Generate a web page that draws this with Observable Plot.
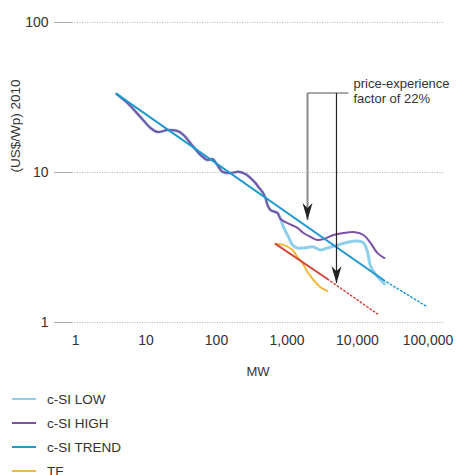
<!DOCTYPE html>
<html><head><meta charset="utf-8">
<script src="https://cdn.jsdelivr.net/npm/d3@7"></script>
<script src="https://cdn.jsdelivr.net/npm/@observablehq/plot@0.6"></script>
<style>
body{margin:0;background:#fff;font-family:"Liberation Sans",Arial,sans-serif;}
#chart svg g[aria-label="y-axis tick"] path, #chart svg g[aria-label="y-axis"] .tick line{stroke:#aaa;}
.legend{margin:2px 0 0 12px;font-size:13.5px;color:#333;}
.legend .row{display:flex;align-items:center;height:24px;}
.legend .sw{width:24px;height:2.5px;margin-right:11px;}
</style>
</head><body>
<div id="chart"></div>
<div class="legend" id="legend"></div>
<script>
// ---- data (MW cumulative, price US$/Wp 2010) ----
const xTicks = [1, 10, 100, 1000, 10000, 100000];
const yTicks = [1, 10, 100];

const sharedMW    = [3.82, 5.47, 8.36, 11.6, 14.6, 20.2, 28.0, 34.0, 47.2, 59.3, 74.5, 87.7, 103, 122, 158, 205, 258, 303, 357, 394, 449, 495, 529, 583, 733, 809];
const sharedPrice = [33.4, 29.0, 23.4, 19.8, 18.6, 19.2, 18.9, 17.8, 14.8, 13.1, 12.1, 12.3, 11.2, 10.1, 9.93, 10.1, 9.77, 9.19, 8.51, 8.0, 7.41, 6.76, 6.07, 5.62, 5.37, 4.90];

const highMW    = [1016, 1409, 1714, 2153, 2708, 3296, 4567, 6329, 8770, 12160, 15290, 19220, 24150];
const highPrice = [4.60, 4.27, 3.95, 3.72, 3.55, 3.60, 3.83, 3.95, 4.01, 3.83, 3.39, 2.90, 2.69];

const lowMW    = [892, 1050, 1197, 1409, 1714, 2377, 2985, 3750, 5200, 7210, 10000, 12160, 13870, 15290, 17990, 21180, 24150];
const lowPrice = [4.33, 3.72, 3.29, 3.14, 3.14, 3.19, 3.04, 3.14, 3.28, 3.43, 3.49, 3.39, 2.95, 2.38, 2.10, 1.92, 1.81];

const trendMW = [3.82, 23400];
const trendPrice = [33.4, 1.92];
const trendExtMW = [23400, 98000];
const trendExtPrice = [1.92, 1.27];

const tfMW    = [687, 892, 1197, 1409, 1660, 1954, 2377, 2985, 3750];
const tfPrice = [3.34, 3.29, 3.04, 2.73, 2.49, 2.17, 1.92, 1.72, 1.62];

const tfTrendMW = [687, 3750];
const tfTrendPrice = [3.34, 1.95];
const tfTrendExtMW = [3750, 19220];
const tfTrendExtPrice = [1.95, 1.14];

// annotation
const arrowMW = [1954, 5035];
const arrowTop = [33.9, 33.9];
const arrowTip = [4.82, 1.83];
const barMW = [1954, 7450];
const noteMW = 8770;
const notePrice = 35.2;
const noteText = "price-experience\nfactor of 22%";

const seriesNames = ["c-SI LOW", "c-SI HIGH", "c-SI TREND", "TF"];
const seriesColors = ["#8ed0ec", "#7b52a4", "#1f98d0", "#f3b83c"];
const tfTrendColor = "#d5473d";

const pts = (xs, ys) => xs.map((x, i) => ({x, y: ys[i]}));
const low = pts(sharedMW.concat(lowMW), sharedPrice.concat(lowPrice));
const high = pts(sharedMW.concat(highMW), sharedPrice.concat(highPrice));

const arrowHead = {draw(ctx) { ctx.moveTo(0, 0); ctx.lineTo(-5, -17); ctx.lineTo(0, -12); ctx.lineTo(5, -17); ctx.closePath(); }};

const chart = Plot.plot({
  width: 459, height: 385,
  marginLeft: 72, marginRight: 16, marginTop: 22, marginBottom: 63,
  style: {fontFamily: '"Liberation Sans", Arial, sans-serif', fontSize: "14px", color: "#333", background: "white", overflow: "visible"},
  x: {type: "log", domain: [0.906, 166000], ticks: xTicks, tickFormat: d3.format(","), tickSize: 0, tickPadding: 13, label: null},
  y: {type: "log", domain: [1, 100], ticks: yTicks, tickFormat: d3.format(","), tickSize: 18, tickPadding: 6, label: null},
  marks: [
    Plot.ruleY(yTicks, {stroke: "#b5b5b5", strokeDasharray: "1,1.5", strokeWidth: 1}),
    Plot.line(low, {x: "x", y: "y", stroke: seriesColors[0], strokeWidth: 3, curve: "catmull-rom"}),
    Plot.line(high, {x: "x", y: "y", stroke: seriesColors[1], strokeWidth: 2, curve: "catmull-rom"}),
    Plot.line(pts(trendMW, trendPrice), {x: "x", y: "y", stroke: seriesColors[2], strokeWidth: 2}),
    Plot.line(pts(trendExtMW, trendExtPrice), {x: "x", y: "y", stroke: seriesColors[2], strokeWidth: 1.5, strokeDasharray: "1.5,2.5"}),
    Plot.line(pts(tfMW, tfPrice), {x: "x", y: "y", stroke: seriesColors[3], strokeWidth: 2, curve: "catmull-rom"}),
    Plot.line(pts(tfTrendMW, tfTrendPrice), {x: "x", y: "y", stroke: tfTrendColor, strokeWidth: 2}),
    Plot.line(pts(tfTrendExtMW, tfTrendExtPrice), {x: "x", y: "y", stroke: tfTrendColor, strokeWidth: 1.5, strokeDasharray: "1.5,2.5"}),
    // annotation
    Plot.link([0], {x1: () => barMW[0], x2: () => barMW[1], y1: () => arrowTop[0], y2: () => arrowTop[0], stroke: "#8c8c8c", strokeWidth: 1.5}),
    Plot.link([0], {x1: () => arrowMW[0], x2: () => arrowMW[0], y1: () => arrowTop[0], y2: () => arrowTip[0], stroke: "#8c8c8c", strokeWidth: 2}),
    Plot.link([1], {x1: () => arrowMW[1], x2: () => arrowMW[1], y1: () => arrowTop[1], y2: () => arrowTip[1], stroke: "#222", strokeWidth: 1.2}),
    Plot.dot(pts(arrowMW, arrowTip), {x: "x", y: "y", symbol: arrowHead, fill: "#222", stroke: "none", r: 5}),
    Plot.text([noteText], {x: () => noteMW, y: () => notePrice, textAnchor: "start", fontSize: 13, lineHeight: 1.15, fill: "#333"}),
    // axis titles
    Plot.text(["MW"], {frameAnchor: "bottom", dy: 53, fontSize: 13, fill: "#333"}),
    Plot.text(["(US$/Wp) 2010"], {frameAnchor: "left", rotate: -90, dx: -57, fontSize: 13.5, fill: "#333"})
  ]
});
document.getElementById("chart").appendChild(chart);

const legend = document.getElementById("legend");
seriesNames.forEach((name, i) => {
  const row = document.createElement("div");
  row.className = "row";
  const sw = document.createElement("span");
  sw.className = "sw";
  sw.style.background = seriesColors[i];
  const t = document.createElement("span");
  t.textContent = name;
  row.appendChild(sw); row.appendChild(t);
  legend.appendChild(row);
});
</script>
</body></html>
